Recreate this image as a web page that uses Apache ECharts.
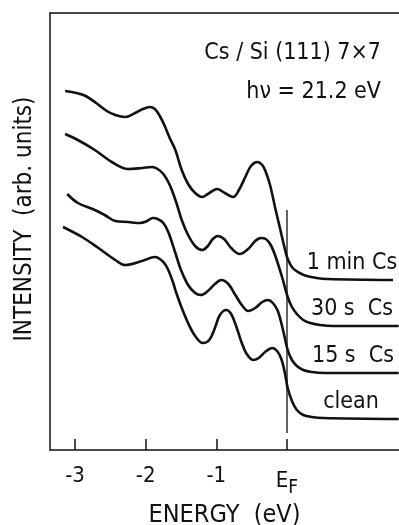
<!DOCTYPE html>
<html>
<head>
<meta charset="utf-8">
<style>
  html, body { margin: 0; padding: 0; background: #fff; }
  #chart { width: 399px; height: 525px; }
</style>
<script src="https://cdn.jsdelivr.net/npm/echarts@6/dist/echarts.min.js"></script>
</head>
<body>
<div id="chart"></div>
<script>
// UPS spectra of Cs on Si(111) 7x7, energy relative to E_F (eV), intensity in arb. units
const energyTicks = [-3, -2, -1, 0];

const spectrum1min = [
  [-3.14, 359], [-2.98, 357], [-2.85, 354], [-2.70, 347], [-2.55, 339], [-2.43, 335], [-2.29, 333],
  [-2.15, 337], [-2.04, 341], [-1.94, 343], [-1.87, 341], [-1.80, 334], [-1.73, 324],
  [-1.66, 312], [-1.58, 300], [-1.49, 280], [-1.40, 266], [-1.30, 257], [-1.20, 253],
  [-1.12, 256], [-0.99, 261], [-0.88, 257], [-0.76, 253], [-0.68, 260], [-0.59, 273],
  [-0.51, 284], [-0.42, 288], [-0.35, 285], [-0.30, 278], [-0.24, 265], [-0.17, 243],
  [-0.10, 222], [-0.03, 201], [0.01, 191], [0.08, 182], [0.18, 177], [0.28, 174],
  [0.42, 172], [0.57, 171], [1.50, 170]
];

const spectrum30s = [
  [-3.14, 316], [-2.96, 310], [-2.72, 300], [-2.48, 288], [-2.25, 281], [-2.05, 282],
  [-1.91, 283], [-1.83, 281], [-1.75, 276], [-1.68, 268], [-1.63, 260], [-1.56, 246],
  [-1.49, 230], [-1.40, 215], [-1.30, 204], [-1.20, 200], [-1.12, 204], [-1.05, 211],
  [-0.98, 214], [-0.89, 211], [-0.79, 202], [-0.67, 196], [-0.55, 201], [-0.45, 209],
  [-0.37, 212], [-0.30, 211], [-0.23, 205], [-0.16, 193], [-0.07, 173], [0.01, 153],
  [0.07, 143], [0.14, 136], [0.23, 130], [0.33, 127], [0.47, 125], [0.65, 124], [1.58, 124]
];

const spectrum15s = [
  [-3.11, 256], [-2.96, 247], [-2.72, 240], [-2.58, 235], [-2.43, 229], [-2.25, 228],
  [-2.08, 227], [-1.98, 229], [-1.90, 232], [-1.83, 231], [-1.75, 227], [-1.68, 218],
  [-1.58, 197], [-1.50, 180], [-1.40, 165], [-1.30, 157], [-1.22, 155], [-1.12, 159],
  [-1.02, 166], [-0.93, 170], [-0.83, 166], [-0.74, 156], [-0.64, 145], [-0.55, 139],
  [-0.45, 142], [-0.35, 148], [-0.27, 150], [-0.20, 147], [-0.13, 139], [-0.06, 121],
  [0.01, 100], [0.07, 90], [0.14, 84], [0.23, 80], [0.35, 78], [0.54, 77], [1.58, 77]
];

const spectrumClean = [
  [-3.17, 223], [-2.90, 213], [-2.67, 202], [-2.43, 190], [-2.29, 185], [-2.05, 189],
  [-1.87, 193], [-1.75, 188], [-1.68, 180], [-1.61, 167], [-1.58, 160], [-1.50, 144],
  [-1.40, 127], [-1.30, 114], [-1.19, 107], [-1.10, 110], [-1.02, 122], [-0.95, 135],
  [-0.86, 140], [-0.79, 136], [-0.72, 124], [-0.64, 107], [-0.57, 96], [-0.48, 90],
  [-0.40, 92], [-0.31, 98], [-0.21, 102], [-0.14, 99], [-0.08, 91], [-0.03, 77],
  [0.01, 62], [0.07, 49], [0.14, 40], [0.23, 35], [0.35, 33], [0.51, 32], [1.58, 31]
];

// Fermi level marker: energy 0, spanning this intensity range
const fermiLine = [[0, 17], [0, 240]];

const curveLabels = ['1 min Cs', '30 s  Cs', '15 s  Cs', 'clean'];

const FONT = "'DejaVu Sans Condensed', 'Liberation Sans Narrow', 'DejaVu Sans', sans-serif";
const INK = '#111';

const chart = echarts.init(document.getElementById('chart'), null, { renderer: 'canvas' });

function spectrumSeries(name, data) {
  return {
    name: name,
    type: 'line',
    data: data,
    xAxisIndex: 0,
    yAxisIndex: 0,
    showSymbol: false,
    smooth: 0.35,
    lineStyle: { color: INK, width: 2.6 },
    silent: true,
    z: 3
  };
}

const series = [
  spectrumSeries(curveLabels[0], spectrum1min),
  spectrumSeries(curveLabels[1], spectrum30s),
  spectrumSeries(curveLabels[2], spectrum15s),
  spectrumSeries(curveLabels[3], spectrumClean),
  {
    name: 'E_F',
    type: 'line',
    data: fermiLine,
    showSymbol: false,
    lineStyle: { color: INK, width: 1.3 },
    silent: true,
    z: 2
  }
];

const option = {
  animation: false,
  backgroundColor: '#fff',
  grid: { left: 50, right: 0, top: 13, bottom: 75, containLabel: false, outerBoundsMode: 'none' },
  xAxis: [
    {
      type: 'value',
      position: 'bottom',
      min: -3.354,
      max: 1.585,
      axisLine: { show: true, onZero: false, lineStyle: { color: INK, width: 1.5 } },
      axisTick: { show: true, inside: true, length: 11, customValues: energyTicks,
                  lineStyle: { color: INK, width: 1.5 } },
      axisLabel: {
        show: true,
        customValues: energyTicks,
        margin: 15,
        fontFamily: FONT,
        fontSize: 22,
        color: INK,
        formatter: function (v) {
          return v === 0 ? '{e|E}{f|F}' : '{n|' + v + '}';
        },
        rich: {
          n: { fontFamily: FONT, fontSize: 22, color: INK },
          e: { fontFamily: FONT, fontSize: 22, color: INK },
          f: { fontFamily: FONT, fontSize: 19, color: INK, padding: [14, 0, 0, 0] }
        }
      },
      splitLine: { show: false },
      name: 'ENERGY  (eV)',
      nameLocation: 'middle',
      nameGap: 52,
      nameTextStyle: { fontFamily: FONT, fontSize: 25, color: INK }
    },
    {
      type: 'value',
      position: 'top',
      min: -3.354,
      max: 1.585,
      axisLine: { show: true, onZero: false, lineStyle: { color: INK, width: 1.5 } },
      axisTick: { show: false },
      axisLabel: { show: false },
      splitLine: { show: false }
    }
  ],
  yAxis: {
    type: 'value',
    position: 'left',
    min: 0,
    max: 437,
    axisLine: { show: true, onZero: false, lineStyle: { color: INK, width: 1.5 } },
    axisTick: { show: false },
    axisLabel: { show: false },
    splitLine: { show: false }
  },
  series: series,
  graphic: [
    {
      type: 'text', x: 25, y: 219, rotation: Math.PI / 2,
      style: { text: 'INTENSITY  (arb. units)', fontFamily: FONT, fontSize: 24, fill: INK,
               align: 'center', verticalAlign: 'middle' }
    },
    {
      type: 'text', x: 381, y: 53,
      style: { text: 'Cs / Si (111) 7×7', fontFamily: FONT, fontSize: 23, fill: INK,
               align: 'right', verticalAlign: 'middle' }
    },
    {
      type: 'text', x: 381, y: 92,
      style: { text: 'hν = 21.2 eV', fontFamily: FONT, fontSize: 23, fill: INK,
               align: 'right', verticalAlign: 'middle' }
    },
    {
      type: 'text', x: 352, y: 263,
      style: { text: curveLabels[0], fontFamily: FONT, fontSize: 23, fill: INK,
               align: 'center', verticalAlign: 'middle' }
    },
    {
      type: 'text', x: 352, y: 309,
      style: { text: curveLabels[1], fontFamily: FONT, fontSize: 23, fill: INK,
               align: 'center', verticalAlign: 'middle' }
    },
    {
      type: 'text', x: 353, y: 356,
      style: { text: curveLabels[2], fontFamily: FONT, fontSize: 23, fill: INK,
               align: 'center', verticalAlign: 'middle' }
    },
    {
      type: 'text', x: 351, y: 402,
      style: { text: curveLabels[3], fontFamily: FONT, fontSize: 23, fill: INK,
               align: 'center', verticalAlign: 'middle' }
    }
  ]
};

chart.setOption(option);
</script>
</body>
</html>
